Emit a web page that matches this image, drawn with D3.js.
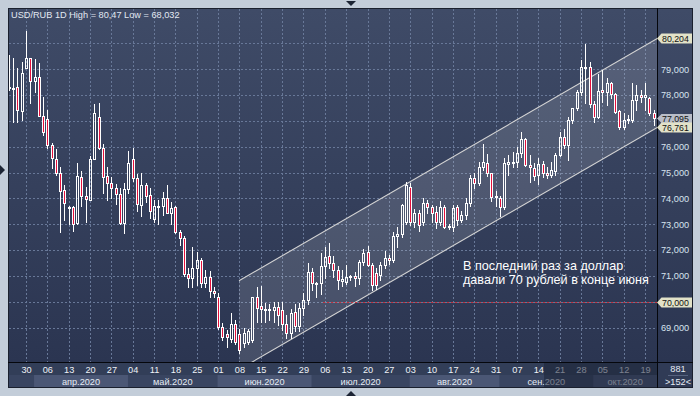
<!DOCTYPE html>
<html>
<head>
<meta charset="utf-8">
<script src="https://cdn.jsdelivr.net/npm/d3@7"></script>
<style>
html, body { margin: 0; padding: 0; background: #c3cdd9; }
svg { display: block; font-family: "Liberation Sans", Arial, sans-serif; }
</style>
</head>
<body>
<svg id="chart" width="700" height="396"></svg>
<script>
// USD/RUB daily candles [open, high, low, close], one array per month
var marBars = [
    [78.30, 79.55, 78.20, 78.28], [78.28, 79.42, 76.97, 78.27], [78.32, 79.03, 76.97, 77.42],
    [77.39, 79.29, 77.03, 78.84], [79.06, 80.47, 79.03, 79.42], [79.42, 79.45, 77.68, 78.55]
];
var aprBars = [
    [78.55, 79.38, 78.13, 78.68], [78.68, 79.23, 77.18, 77.20], [77.20, 77.91, 76.45, 76.58],
    [77.07, 77.42, 75.94, 76.06], [76.06, 76.15, 75.19, 75.55], [75.51, 75.90, 74.90, 74.99],
    [74.99, 75.22, 72.69, 74.30], [74.32, 74.52, 73.16, 73.81], [73.66, 73.70, 73.01, 73.64],
    [73.65, 73.70, 72.72, 73.01], [73.03, 75.36, 73.01, 74.86], [74.81, 75.07, 73.72, 74.10],
    [74.10, 74.45, 73.07, 73.96], [73.94, 75.64, 73.94, 75.51], [75.51, 77.65, 75.51, 77.29],
    [77.14, 77.68, 75.90, 75.94], [75.94, 76.10, 74.22, 74.84], [74.86, 75.22, 73.94, 74.58],
    [74.58, 74.84, 74.02, 74.39], [74.39, 74.55, 73.78, 74.16], [74.17, 74.39, 73.01, 73.03],
    [73.03, 74.61, 72.65, 74.35]
];
var mayBars = [
    [74.35, 75.84, 74.22, 75.36], [75.51, 75.94, 74.68, 74.80], [74.78, 74.94, 73.51, 73.77],
    [73.74, 74.97, 73.32, 74.52], [74.52, 74.58, 73.87, 74.09], [74.13, 74.39, 73.25, 73.51],
    [73.20, 73.94, 73.10, 73.70], [73.70, 73.94, 73.01, 73.71], [73.70, 74.26, 73.36, 74.00],
    [74.00, 74.52, 73.42, 73.44], [73.44, 73.84, 73.01, 73.61], [73.65, 73.70, 72.65, 72.69],
    [72.69, 72.77, 72.19, 72.45], [72.48, 72.55, 71.00, 71.07], [71.07, 71.29, 70.58, 70.91],
    [70.91, 72.10, 70.58, 71.29], [71.29, 71.93, 70.65, 71.61], [71.61, 71.68, 70.58, 70.74],
    [70.74, 71.23, 70.55, 70.94], [70.94, 71.17, 70.19, 70.43], [70.43, 70.58, 70.19, 70.33]
];
var junBars = [
    [70.19, 70.33, 68.95, 69.03], [69.01, 69.16, 68.52, 68.62], [68.75, 68.90, 68.26, 68.62],
    [68.55, 69.55, 68.45, 69.14], [69.14, 69.30, 68.35, 68.45], [68.75, 68.95, 68.032, 68.13],
    [68.39, 69.00, 68.26, 68.78], [68.45, 68.95, 68.35, 68.85], [68.50, 70.20, 68.45, 70.19],
    [70.19, 70.56, 69.23, 69.74], [69.85, 70.60, 69.20, 69.72], [69.68, 69.95, 69.20, 69.70],
    [69.70, 69.90, 69.30, 69.68], [69.68, 70.00, 69.20, 69.78], [69.78, 70.00, 69.10, 69.49],
    [69.68, 70.00, 68.90, 69.14], [69.14, 69.50, 68.58, 68.80], [68.80, 69.70, 68.60, 69.55],
    [69.60, 69.90, 68.85, 69.06], [69.06, 69.95, 68.85, 69.74], [69.74, 70.32, 69.50, 70.07],
    [70.07, 71.49, 69.90, 71.16]
];
var julBars = [
    [71.16, 71.30, 70.45, 70.71], [70.71, 70.75, 70.19, 70.72], [70.72, 71.90, 70.30, 71.38],
    [71.38, 72.10, 70.90, 71.72], [71.75, 72.28, 71.30, 71.49], [71.49, 71.77, 70.97, 71.23],
    [71.23, 71.40, 70.48, 70.84], [70.80, 71.23, 70.60, 70.86], [70.78, 71.42, 70.70, 70.97],
    [70.97, 71.05, 70.84, 71.00], [71.00, 71.15, 70.61, 70.90], [70.90, 71.60, 70.70, 71.52],
    [71.52, 72.03, 71.42, 71.87], [71.94, 72.16, 71.37, 71.42], [71.42, 71.50, 70.45, 70.65],
    [71.10, 71.30, 70.50, 70.65], [71.03, 71.55, 70.84, 71.42], [71.42, 71.97, 71.30, 71.68],
    [71.68, 71.80, 71.45, 71.61], [71.61, 72.70, 71.55, 72.54], [72.54, 72.90, 72.10, 72.62],
    [72.62, 73.80, 72.50, 73.74], [73.09, 74.64, 73.00, 74.52]
];
var augBars = [
    [74.45, 74.60, 72.95, 73.09], [73.09, 73.60, 72.90, 73.42], [73.42, 73.55, 72.75, 72.97],
    [73.09, 74.00, 72.95, 73.83], [73.83, 73.95, 73.45, 73.68], [73.65, 73.75, 73.10, 73.42],
    [73.48, 73.70, 72.85, 73.09], [73.09, 73.90, 72.95, 73.68], [73.68, 73.75, 72.85, 72.90],
    [72.90, 73.00, 72.80, 72.92], [72.90, 73.75, 72.75, 73.61], [73.65, 73.75, 72.95, 73.16],
    [73.16, 73.50, 73.10, 73.36], [73.36, 74.00, 73.20, 73.81], [73.81, 74.90, 73.70, 74.77],
    [74.77, 75.00, 74.40, 74.58], [74.58, 75.40, 74.50, 75.22], [75.22, 76.10, 75.10, 75.42],
    [75.38, 75.70, 74.85, 74.97], [74.97, 75.00, 73.90, 74.06], [74.06, 74.30, 73.70, 74.08]
];
var sepBars = [
    [74.00, 74.10, 73.30, 73.68], [73.68, 75.55, 73.60, 75.35], [75.32, 75.68, 74.90, 75.42],
    [75.42, 75.80, 75.20, 75.40], [75.40, 76.00, 75.20, 75.74], [75.74, 76.58, 75.60, 76.30],
    [76.30, 76.35, 75.25, 75.29], [75.29, 75.68, 74.65, 75.20], [75.16, 75.35, 74.70, 74.86],
    [74.90, 75.55, 74.55, 75.33], [75.33, 75.46, 74.81, 74.97], [74.99, 75.23, 74.77, 74.90],
    [74.90, 75.42, 74.84, 75.10], [75.07, 75.74, 74.90, 75.68], [75.68, 76.58, 75.62, 76.36],
    [76.36, 76.70, 75.95, 76.06], [76.06, 77.13, 75.50, 77.03], [77.03, 77.50, 76.90, 77.48],
    [77.48, 78.20, 77.40, 78.13], [78.13, 79.35, 78.00, 79.10], [79.10, 79.97, 77.70, 79.07],
    [79.07, 79.29, 77.55, 77.65]
];
var octBars = [
    [77.65, 77.78, 76.97, 77.14], [77.14, 78.81, 77.10, 78.17], [78.20, 78.97, 77.74, 78.10],
    [78.10, 78.65, 77.61, 78.45], [78.45, 78.52, 77.87, 78.04], [78.04, 78.06, 77.29, 77.35],
    [77.39, 77.42, 76.67, 76.75], [76.75, 77.29, 76.70, 77.03], [77.03, 77.23, 76.90, 77.06],
    [77.03, 78.45, 76.97, 77.81], [77.81, 78.39, 77.42, 78.00], [78.00, 78.19, 77.74, 77.94],
    [77.94, 78.45, 77.42, 78.00], [77.87, 77.94, 77.23, 77.29], [77.29, 77.42, 76.84, 77.095]
];

// time axis: weekly (monday) bar index and labels
var weekIdx = d3.range(4, 150, 5);
var dayLabels = ["30", "06", "13", "20", "27", "04", "11", "18", "25", "01", "08", "15", "22", "29", "06",
    "13", "20", "27", "03", "10", "17", "24", "31", "07", "14", "21", "28", "05", "12", "19"];
var monthStart = [6, 28, 49, 71, 94, 115, 137, 152];
var monthLabels = ["апр.2020", "май.2020", "июн.2020", "июл.2020", "авг.2020", "сен.2020", "окт.2020"];

// price axis (77 and 80 sit under the price tags)
var priceTicks = d3.range(69, 81);
var priceLabels = [69, 70, 71, 72, 73, 74, 75, 76, 78, 79];
var priceTags = [80.204, 76.761, 70];
var lastPrice = 77.095;

// trend channel (bar index, price)
var channelIdx = [53.9, 152.05];
var channelUpper = [70.81, 80.204];
var channelLower = [67.37, 76.761];
var levelValue = 70, levelStartIdx = 73.6;

var titleText = "USD/RUB 1D High = 80,47 Low = 68,032";
var noteLines = ["В последний раз за доллар", "давали 70 рублей в конце июня"];

var svg = d3.select("svg");
var plot = { left: 9, top: 9, right: 657, bottom: 362 };

var bars = [].concat(marBars, aprBars, mayBars, junBars, julBars, augBars, sepBars, octBars)
    .map(function (d, i) { return { i: i, o: d[0], h: d[1], l: d[2], c: d[3] }; });

var x = d3.scaleLinear().domain([4, 149]).range([26, 645]);
var y = d3.scaleLinear().domain([70, 80]).range([301.7, 43.3]);

var fmtPrice = function (d) { return d3.format(".3f")(d).replace(".", ","); };

var defs = svg.append("defs");
var grad = defs.append("linearGradient").attr("id", "bg").attr("x1", 0).attr("y1", 0).attr("x2", 0).attr("y2", 1);
grad.append("stop").attr("offset", 0).attr("stop-color", "#3f4b67");
grad.append("stop").attr("offset", 1).attr("stop-color", "#2b3551");
defs.append("clipPath").attr("id", "plotClip").append("rect")
    .attr("x", plot.left).attr("y", plot.top)
    .attr("width", plot.right - plot.left).attr("height", plot.bottom - plot.top);

// frame and panels
svg.append("rect").attr("width", 700).attr("height", 396).attr("fill", "#c3cdd9");
svg.append("rect").attr("x", 8).attr("y", 8).attr("width", 685).attr("height", 380).attr("fill", "#1a202e");
svg.append("rect").attr("x", plot.left).attr("y", plot.top)
    .attr("width", plot.right - plot.left).attr("height", plot.bottom - plot.top).attr("fill", "url(#bg)");
svg.append("rect").attr("x", 658).attr("y", 9).attr("width", 34).attr("height", 353).attr("fill", "url(#bg)");
svg.append("rect").attr("x", 9).attr("y", 363).attr("width", 648).attr("height", 12).attr("fill", "#323e58");
svg.append("rect").attr("x", 9).attr("y", 375).attr("width", 648).attr("height", 12).attr("fill", "#394561");
svg.append("rect").attr("x", 658).attr("y", 363).attr("width", 34).attr("height", 24).attr("fill", "#303b56");

// month boxes
var months = monthLabels.map(function (m, k) {
    var x0 = x(monthStart[k]) - 0.5;
    var x1 = Math.min(x(monthStart[k + 1]) - 0.5, plot.right);
    return { name: m, x0: x0, x1: x1, shaded: k % 2 === 0 };
});
svg.selectAll("rect.month").data(months.filter(function (d) { return d.shaded; }))
    .enter().append("rect").attr("class", "month")
    .attr("x", function (d) { return d.x0; }).attr("y", 375)
    .attr("width", function (d) { return d.x1 - d.x0; }).attr("height", 12)
    .attr("fill", "#4b5775");

// grid
var grid = svg.append("g").attr("clip-path", "url(#plotClip)")
    .attr("stroke", "#687898").attr("stroke-width", 1).attr("stroke-dasharray", "2,2");
grid.selectAll("line.h").data(priceTicks).enter().append("line")
    .attr("x1", plot.left).attr("x2", plot.right)
    .attr("y1", function (d) { return Math.round(y(d)) + 0.5; })
    .attr("y2", function (d) { return Math.round(y(d)) + 0.5; });
grid.selectAll("line.v").data(weekIdx).enter().append("line")
    .attr("y1", plot.top).attr("y2", plot.bottom)
    .attr("x1", function (d) { return Math.round(x(d)) + 0.5; })
    .attr("x2", function (d) { return Math.round(x(d)) + 0.5; });

var g = svg.append("g").attr("clip-path", "url(#plotClip)");

// trend channel
var chan = [
    [x(channelIdx[0]), y(channelUpper[0])], [x(channelIdx[1]), y(channelUpper[1])],
    [x(channelIdx[1]), y(channelLower[1])], [x(channelIdx[0]), y(channelLower[0])]
];
g.append("path").attr("d", "M" + chan.join("L") + "Z").attr("fill", "#ffffff").attr("fill-opacity", 0.13);
[channelUpper, channelLower].forEach(function (v) {
    g.append("line")
        .attr("x1", x(channelIdx[0])).attr("y1", y(v[0]))
        .attr("x2", x(channelIdx[1])).attr("y2", y(v[1]))
        .attr("stroke", "#d4d4d4").attr("stroke-width", 1.1);
});

// 70 level
g.append("line")
    .attr("x1", x(levelStartIdx)).attr("x2", plot.right)
    .attr("y1", Math.round(y(levelValue)) + 0.5).attr("y2", Math.round(y(levelValue)) + 0.5)
    .attr("stroke", "#c8303c").attr("stroke-dasharray", "2,2");

// candles
var candle = g.selectAll("g.candle").data(bars).enter().append("g").attr("class", "candle");
candle.each(function (d) {
    var cx = Math.round(x(d.i));
    var top = Math.round(y(Math.max(d.o, d.c)));
    var bot = Math.max(Math.round(y(Math.min(d.o, d.c))), top + 1);
    var sel = d3.select(this);
    sel.append("line").attr("x1", cx + 0.5).attr("x2", cx + 0.5)
        .attr("y1", Math.round(y(d.h))).attr("y2", top).attr("stroke", "#ffffff");
    sel.append("line").attr("x1", cx + 0.5).attr("x2", cx + 0.5)
        .attr("y1", bot).attr("y2", Math.round(y(d.l)) + 1).attr("stroke", "#ffffff");
    sel.append("rect").attr("x", cx - 0.5).attr("y", top + 0.5)
        .attr("width", 2).attr("height", bot - top)
        .attr("fill", d.c < d.o ? "#e4103c" : "none")
        .attr("stroke", "#ffffff").attr("stroke-width", 1);
});

// title and note
svg.append("text").attr("x", 11).attr("y", 18.3).attr("font-size", 9.2)
    .attr("fill", "#e2e9f2").text(titleText);
svg.append("g").selectAll("text").data(noteLines).enter().append("text")
    .attr("x", 463).attr("y", function (d, i) { return 270 + i * 14; })
    .attr("font-size", 12.6).attr("fill", "#ffffff").text(function (d) { return d; });

// separators
svg.append("line").attr("x1", 657.5).attr("x2", 657.5).attr("y1", 8).attr("y2", 388).attr("stroke", "#05070c");
svg.append("line").attr("x1", 8).attr("x2", 693).attr("y1", 362.5).attr("y2", 362.5).attr("stroke", "#05070c");

// price axis
svg.append("g").attr("transform", "translate(658,0)")
    .call(d3.axisRight(y).tickValues(priceLabels).tickSize(0).tickPadding(3).tickFormat(fmtPrice))
    .call(function (a) { a.select(".domain").remove(); })
    .attr("font-size", 9.2).attr("font-family", null).attr("color", "#d8e3ef");

function priceTag(v, fill, h) {
    var cy = Math.round(y(v)) + 0.5;
    svg.append("path")
        .attr("d", "M657," + cy + "L661.5," + (cy - h) + "L692," + (cy - h) + "L692," + (cy + h) + "L661.5," + (cy + h) + "Z")
        .attr("fill", fill);
    svg.append("text").attr("x", 662).attr("y", cy + 3).attr("font-size", 8.8)
        .attr("fill", "#111111").text(fmtPrice(v));
}
priceTag(lastPrice, "#b9bdc8", 4.5);
priceTags.forEach(function (v) { priceTag(v, "#e2e2c8", 5); });

// time axis
svg.append("g").attr("transform", "translate(0,362)")
    .call(d3.axisBottom(x).tickValues(weekIdx).tickSize(0).tickPadding(4.8)
        .tickFormat(function (d, k) { return dayLabels[k]; }))
    .call(function (a) { a.select(".domain").remove(); })
    .attr("font-size", 9.2).attr("font-family", null).attr("color", "#eef2f7");
svg.append("g").selectAll("text").data(months).enter().append("text")
    .attr("x", function (d) { return (d.x0 + d.x1) / 2; }).attr("y", 384.5)
    .attr("text-anchor", "middle").attr("font-size", 9.2).attr("fill", "#e6ecf4")
    .text(function (d) { return d.name; });

// dimmed part of the time scale
svg.append("rect").attr("x", 544).attr("y", 363).attr("width", 113).attr("height", 24)
    .attr("fill", "#1c2236").attr("fill-opacity", 0.55);

// corner counters
svg.append("text").attr("x", 678).attr("y", 371.7).attr("text-anchor", "middle")
    .attr("font-size", 9.2).attr("fill", "#e6ecf4").text("881");
svg.append("line").attr("x1", 668).attr("x2", 688).attr("y1", 375.5).attr("y2", 375.5).attr("stroke", "#56627e");
svg.append("text").attr("x", 678).attr("y", 385).attr("text-anchor", "middle")
    .attr("font-size", 9.2).attr("fill", "#e6ecf4").text(">152<");

// scroll markers on the frame
svg.append("path").attr("d", "M346,1L356,1L351,6Z").attr("fill", "#1c2434");
svg.append("path").attr("d", "M346,396L356,396L351,391Z").attr("fill", "#1c2434");
svg.append("path").attr("d", "M0,165L0,175L5,170Z").attr("fill", "#1c2434");
</script>
</body>
</html>
